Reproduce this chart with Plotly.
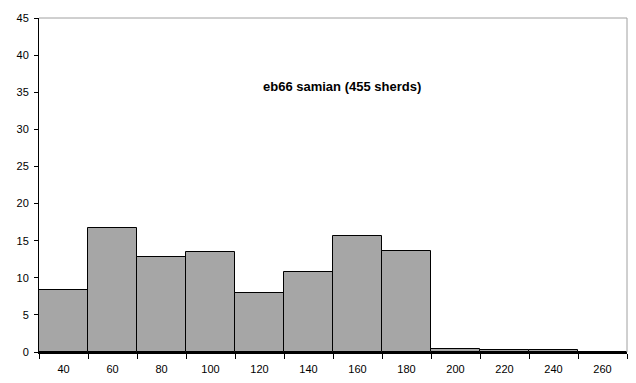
import plotly.graph_objects as go

categories = ["40", "60", "80", "100", "120", "140", "160", "180", "200", "220", "240", "260"]
percent = [8.35, 16.70, 12.75, 13.41, 7.91, 10.77, 15.60, 13.63, 0.44, 0.22, 0.22, 0.0]
y_ticks = [0, 5, 10, 15, 20, 25, 30, 35, 40, 45]
title_text = "eb66 samian (455 sherds)"

fig = go.Figure()
fig.add_trace(go.Bar(
    x=categories, y=percent,
    marker=dict(color="#A6A6A6", line=dict(color="black", width=1)),
    width=1.0,
))

fig.update_layout(
    width=628, height=375,
    margin=dict(l=31, r=9, t=4, b=31),
    plot_bgcolor="white", paper_bgcolor="white",
    bargap=0, showlegend=False,
    font=dict(family="Liberation Sans, Arial", size=11, color="black"),
    xaxis=dict(type="category", tickson="boundaries", ticks="outside", ticklen=5,
               tickcolor="black", showline=True, linecolor="black", linewidth=2,
               showgrid=False, tickfont=dict(size=11), range=[-0.5, 11.5],
               ticklabelstandoff=6),
    yaxis=dict(range=[0, 45], tickvals=y_ticks, ticks="outside", ticklen=4,
               tickcolor="black", showline=True, linecolor="black", linewidth=1,
               showgrid=False, zeroline=False, tickfont=dict(size=11),
               ticklabeloverflow="allow", ticklabelstandoff=3),
    annotations=[dict(text="<b>" + title_text + "</b>", x=0.515, y=0.822,
                      xref="paper", yref="paper", showarrow=False,
                      font=dict(size=13, family="Liberation Sans, Arial"))],
    shapes=[
        dict(type="line", xref="paper", yref="paper", x0=0, x1=1, y0=1, y1=1,
             line=dict(color="#A0A0A0", width=1)),
        dict(type="line", xref="paper", yref="paper", x0=1, x1=1, y0=0, y1=1,
             line=dict(color="#A0A0A0", width=1)),
    ],
)

fig.write_html("out.html")
